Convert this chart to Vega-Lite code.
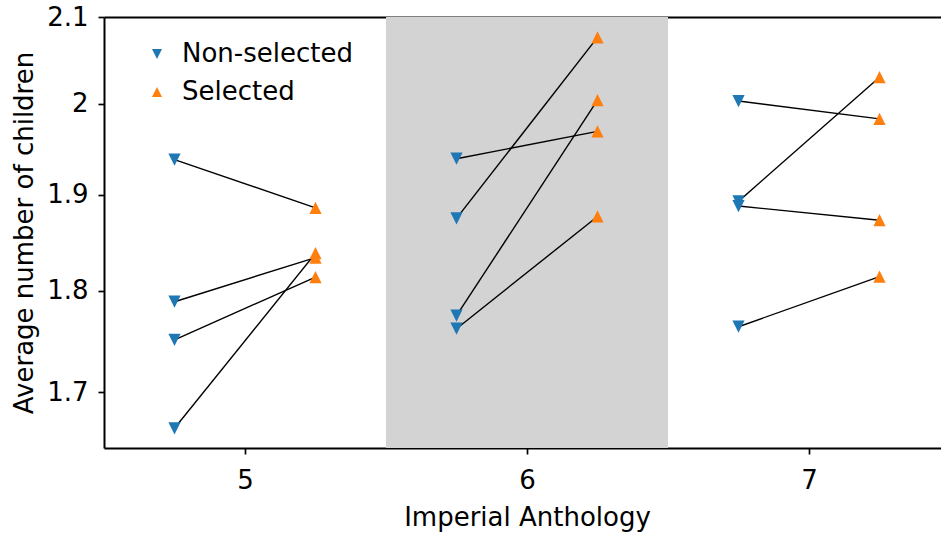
{
  "$schema": "https://vega.github.io/schema/vega-lite/v6.json",
  "width": 846,
  "height": 431,
  "autosize": "none",
  "padding": {"left": 104, "top": 17, "right": 0, "bottom": 87},
  "background": "white",
  "config": {
    "view": {"stroke": null},
    "font": "DejaVu Sans",
    "axis": {
      "grid": false,
      "domainColor": "black",
      "domainWidth": 2,
      "tickColor": "black",
      "tickWidth": 1.7,
      "tickSize": 6,
      "labelColor": "black",
      "labelFontSize": 26,
      "labelFont": "DejaVu Sans",
      "titleColor": "black",
      "titleFontSize": 26,
      "titleFont": "DejaVu Sans",
      "titleFontWeight": "normal",
      "zindex": 1
    },
    "legend": {
      "labelFont": "DejaVu Sans"
    }
  },
  "datasets": {
    "shaded": [{"start": 5.5, "end": 6.5}],
    "pairs": [
      {"pair": 1, "era": 5, "group": "Non-selected", "pos": 4.75, "children": 1.938},
      {"pair": 1, "era": 5, "group": "Selected", "pos": 5.25, "children": 1.886},
      {"pair": 2, "era": 5, "group": "Non-selected", "pos": 4.75, "children": 1.789},
      {"pair": 2, "era": 5, "group": "Selected", "pos": 5.25, "children": 1.834},
      {"pair": 3, "era": 5, "group": "Non-selected", "pos": 4.75, "children": 1.751},
      {"pair": 3, "era": 5, "group": "Selected", "pos": 5.25, "children": 1.814},
      {"pair": 4, "era": 5, "group": "Non-selected", "pos": 4.75, "children": 1.666},
      {"pair": 4, "era": 5, "group": "Selected", "pos": 5.25, "children": 1.8385},
      {"pair": 5, "era": 6, "group": "Non-selected", "pos": 5.75, "children": 1.939},
      {"pair": 5, "era": 6, "group": "Selected", "pos": 6.25, "children": 1.969},
      {"pair": 6, "era": 6, "group": "Non-selected", "pos": 5.75, "children": 1.875},
      {"pair": 6, "era": 6, "group": "Selected", "pos": 6.25, "children": 2.076},
      {"pair": 7, "era": 6, "group": "Non-selected", "pos": 5.75, "children": 1.775},
      {"pair": 7, "era": 6, "group": "Selected", "pos": 6.25, "children": 2.004},
      {"pair": 8, "era": 6, "group": "Non-selected", "pos": 5.75, "children": 1.762},
      {"pair": 8, "era": 6, "group": "Selected", "pos": 6.25, "children": 1.877},
      {"pair": 9, "era": 7, "group": "Non-selected", "pos": 6.75, "children": 2.003},
      {"pair": 9, "era": 7, "group": "Selected", "pos": 7.25, "children": 1.983},
      {"pair": 10, "era": 7, "group": "Non-selected", "pos": 6.75, "children": 1.893},
      {"pair": 10, "era": 7, "group": "Selected", "pos": 7.25, "children": 2.03},
      {"pair": 11, "era": 7, "group": "Non-selected", "pos": 6.75, "children": 1.888},
      {"pair": 11, "era": 7, "group": "Selected", "pos": 7.25, "children": 1.873},
      {"pair": 12, "era": 7, "group": "Non-selected", "pos": 6.75, "children": 1.764},
      {"pair": 12, "era": 7, "group": "Selected", "pos": 7.25, "children": 1.8145}
    ]
  },
  "layer": [
    {
      "data": {"name": "shaded"},
      "mark": {"type": "rect", "color": "#d3d3d3"},
      "encoding": {
        "x": {
          "field": "start",
          "type": "quantitative",
          "scale": {"domain": [4.5, 7.5], "nice": false, "zero": false},
          "axis": {"orient": "top", "labels": false, "ticks": false, "title": null}
        },
        "x2": {"field": "end"}
      }
    },
    {
      "data": {"name": "pairs"},
      "mark": {"type": "line", "color": "black", "strokeWidth": 1.4},
      "encoding": {
        "x": {
          "field": "pos",
          "type": "quantitative",
          "axis": {
            "orient": "bottom",
            "values": [5, 6, 7],
            "format": "d",
            "labelPadding": 13,
            "title": "Imperial Anthology",
            "titleY": 77,
            "titleBaseline": "alphabetic"
          }
        },
        "y": {
          "field": "children",
          "type": "quantitative",
          "scale": {"type": "log", "domain": [1.6476, 2.1], "nice": false, "zero": false},
          "axis": {
            "values": [1.7, 1.8, 1.9, 2, 2.1],
            "format": "~g",
            "labelPadding": 10,
            "title": "Average number of children",
            "titleAngle": 270,
            "titleX": -72,
            "titleY": 215.5,
            "titleAlign": "center",
            "titleBaseline": "alphabetic"
          }
        },
        "detail": {"field": "pair", "type": "nominal"}
      }
    },
    {
      "data": {"name": "pairs"},
      "mark": {"type": "point", "filled": true, "opacity": 1, "size": 150, "strokeWidth": 0},
      "encoding": {
        "x": {"field": "pos", "type": "quantitative", "axis": null},
        "y": {"field": "children", "type": "quantitative"},
        "color": {
          "field": "group",
          "type": "nominal",
          "scale": {"domain": ["Non-selected", "Selected"], "range": ["#1f77b4", "#ff7f0e"]},
          "legend": {
            "orient": "none",
            "legendX": 40,
            "legendY": 24,
            "title": null,
            "labelFontSize": 26,
            "labelColor": "black",
            "labelLimit": 400,
            "symbolSize": 100,
            "symbolStrokeWidth": 0,
            "symbolOpacity": 1,
            "rowPadding": 12,
            "labelOffset": 12,
            "padding": 0
          }
        },
        "shape": {
          "field": "group",
          "type": "nominal",
          "scale": {
            "domain": ["Non-selected", "Selected"],
            "range": ["M-1,-1L1,-1L0,1Z", "M0,-1L1,1L-1,1Z"]
          }
        }
      }
    }
  ],
  "resolve": {"axis": {"x": "independent"}}
}
